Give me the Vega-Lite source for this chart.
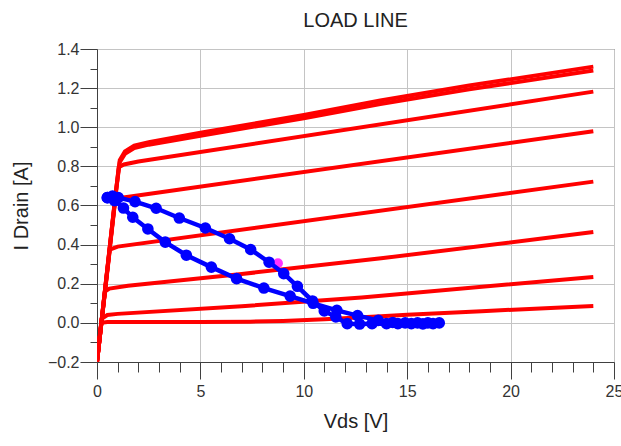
{
  "$schema": "https://vega.github.io/schema/vega-lite/v6.json",
  "autosize": {"type": "none"},
  "padding": {"left": 97, "top": 49, "right": 7, "bottom": 84},
  "width": 517,
  "height": 313,
  "background": "white",
  "title": {"text": "LOAD LINE", "anchor": "middle", "frame": "group", "fontSize": 20, "font": "Liberation Sans", "fontWeight": "normal", "color": "#222222", "baseline": "alphabetic", "offset": -6},
  "config": {
    "view": {"stroke": "#404040", "strokeWidth": 1},
    "axis": {"labelFont": "Liberation Sans", "labelFontSize": 16, "labelColor": "#333333", "titleFont": "Liberation Sans", "titleFontSize": 20, "titleFontWeight": "normal", "titleColor": "#222222", "domainColor": "#404040", "tickColor": "#404040", "gridColor": "#c4c4c4", "gridWidth": 1}
  },
  "datasets": {
    "iv": [
      {"s": "a1", "vds": 0, "id": -0.2}, {"s": "a1", "vds": 0.9, "id": 0.66}, {"s": "a1", "vds": 1.1, "id": 0.832}, {"s": "a1", "vds": 1.35, "id": 0.876}, {"s": "a1", "vds": 1.8, "id": 0.906}, {"s": "a1", "vds": 2.5, "id": 0.924}, {"s": "a1", "vds": 5, "id": 0.972}, {"s": "a1", "vds": 10, "id": 1.063}, {"s": "a1", "vds": 13.7, "id": 1.137}, {"s": "a1", "vds": 18, "id": 1.213}, {"s": "a1", "vds": 24, "id": 1.31},
      {"s": "a2", "vds": 0, "id": -0.2}, {"s": "a2", "vds": 0.9, "id": 0.655}, {"s": "a2", "vds": 1.1, "id": 0.822}, {"s": "a2", "vds": 1.35, "id": 0.864}, {"s": "a2", "vds": 1.8, "id": 0.894}, {"s": "a2", "vds": 2.5, "id": 0.911}, {"s": "a2", "vds": 5, "id": 0.957}, {"s": "a2", "vds": 10, "id": 1.046}, {"s": "a2", "vds": 13.7, "id": 1.119}, {"s": "a2", "vds": 18, "id": 1.194}, {"s": "a2", "vds": 24, "id": 1.29},
      {"s": "b", "vds": 0, "id": -0.2}, {"s": "b", "vds": 1.05, "id": 0.795}, {"s": "b", "vds": 1.3, "id": 0.81}, {"s": "b", "vds": 2, "id": 0.825}, {"s": "b", "vds": 24, "id": 1.182},
      {"s": "c", "vds": 0, "id": -0.2}, {"s": "c", "vds": 0.88, "id": 0.625}, {"s": "c", "vds": 1.2, "id": 0.64}, {"s": "c", "vds": 24, "id": 0.98},
      {"s": "d", "vds": 0, "id": -0.2}, {"s": "d", "vds": 0.62, "id": 0.375}, {"s": "d", "vds": 1, "id": 0.39}, {"s": "d", "vds": 24, "id": 0.722},
      {"s": "e", "vds": 0, "id": -0.2}, {"s": "e", "vds": 0.38, "id": 0.16}, {"s": "e", "vds": 0.6, "id": 0.175}, {"s": "e", "vds": 1.5, "id": 0.19}, {"s": "e", "vds": 7, "id": 0.25}, {"s": "e", "vds": 13.74, "id": 0.33}, {"s": "e", "vds": 24, "id": 0.464},
      {"s": "f", "vds": 0, "id": -0.2}, {"s": "f", "vds": 0.22, "id": 0.02}, {"s": "f", "vds": 0.5, "id": 0.04}, {"s": "f", "vds": 1, "id": 0.046}, {"s": "f", "vds": 7, "id": 0.085}, {"s": "f", "vds": 12.8, "id": 0.13}, {"s": "f", "vds": 24, "id": 0.235},
      {"s": "g", "vds": 0, "id": -0.2}, {"s": "g", "vds": 0.21, "id": 0.0}, {"s": "g", "vds": 0.5, "id": 0.004}, {"s": "g", "vds": 5, "id": 0.005}, {"s": "g", "vds": 7.4, "id": 0.006}, {"s": "g", "vds": 9, "id": 0.01}, {"s": "g", "vds": 11, "id": 0.018}, {"s": "g", "vds": 13.74, "id": 0.034}, {"s": "g", "vds": 15, "id": 0.041}, {"s": "g", "vds": 18.6, "id": 0.06}, {"s": "g", "vds": 24, "id": 0.086}
    ],
    "loop": [
      {"i": 1, "vds": 0.5, "id": 0.64}, {"i": 2, "vds": 0.75, "id": 0.648}, {"i": 3, "vds": 1.03, "id": 0.64}, {"i": 4, "vds": 1.84, "id": 0.62}, {"i": 5, "vds": 2.86, "id": 0.586}, {"i": 6, "vds": 3.98, "id": 0.536}, {"i": 7, "vds": 5.24, "id": 0.485}, {"i": 8, "vds": 6.41, "id": 0.43}, {"i": 9, "vds": 7.43, "id": 0.375}, {"i": 10, "vds": 8.32, "id": 0.31}, {"i": 11, "vds": 9.03, "id": 0.252}, {"i": 12, "vds": 9.69, "id": 0.187}, {"i": 13, "vds": 10.42, "id": 0.112}, {"i": 14, "vds": 10.99, "id": 0.061}, {"i": 15, "vds": 11.55, "id": 0.03}, {"i": 16, "vds": 12.1, "id": -0.004}, {"i": 17, "vds": 12.7, "id": -0.006}, {"i": 18, "vds": 13.3, "id": -0.004}, {"i": 19, "vds": 14.0, "id": -0.004}, {"i": 20, "vds": 14.55, "id": -0.004}, {"i": 21, "vds": 15.2, "id": -0.004}, {"i": 22, "vds": 15.76, "id": -0.005}, {"i": 23, "vds": 16.25, "id": -0.004}, {"i": 24, "vds": 16.55, "id": 0.0}, {"i": 25, "vds": 16.0, "id": 0.0}, {"i": 26, "vds": 15.5, "id": 0.0}, {"i": 27, "vds": 14.9, "id": 0.0}, {"i": 28, "vds": 14.3, "id": 0.002}, {"i": 29, "vds": 13.6, "id": 0.013}, {"i": 30, "vds": 12.6, "id": 0.037}, {"i": 31, "vds": 11.6, "id": 0.064}, {"i": 32, "vds": 10.45, "id": 0.1}, {"i": 33, "vds": 9.34, "id": 0.137}, {"i": 34, "vds": 8.07, "id": 0.178}, {"i": 35, "vds": 6.75, "id": 0.226}, {"i": 36, "vds": 5.53, "id": 0.285}, {"i": 37, "vds": 4.32, "id": 0.346}, {"i": 38, "vds": 3.3, "id": 0.413}, {"i": 39, "vds": 2.46, "id": 0.48}, {"i": 40, "vds": 1.73, "id": 0.54}, {"i": 41, "vds": 1.28, "id": 0.587}, {"i": 42, "vds": 0.85, "id": 0.625}, {"i": 43, "vds": 0.5, "id": 0.64}
    ],
    "marker": [{"vds": 8.75, "id": 0.305}]
  },
  "encoding": {
    "x": {"field": "vds", "type": "quantitative", "scale": {"domain": [0, 25], "nice": false, "zero": false},
      "axis": {"title": "Vds [V]", "values": [0,1,2,3,4,5,6,7,8,9,10,11,12,13,14,15,16,17,18,19,20,21,22,23,24,25], "format": "d",
        "labelExpr": "datum.value % 5 === 0 ? datum.label : ''",
        "tickSize": {"condition": {"test": "datum.value % 5 === 0", "value": 17}, "value": 10},
        "gridOpacity": {"condition": {"test": "datum.value % 5 === 0", "value": 1}, "value": 0},
        "grid": true, "labelPadding": 4, "labelOverlap": false, "labelFlush": false, "labelBound": false,
        "titleY": 65, "titleBaseline": "alphabetic"}},
    "y": {"field": "id", "type": "quantitative", "scale": {"domain": [-0.2, 1.4], "nice": false, "zero": false},
      "axis": {"title": "I Drain [A]", "values": [-0.2,-0.1,0,0.1,0.2,0.3,0.4,0.5,0.6,0.7,0.8,0.9,1.0,1.1,1.2,1.3,1.4], "format": ".1f",
        "labelExpr": "round(datum.value*10) % 2 === 0 ? datum.label : ''",
        "tickSize": {"condition": {"test": "round(datum.value*10) % 2 === 0", "value": 17}, "value": 7},
        "gridOpacity": {"condition": {"test": "round(datum.value*10) % 2 === 0", "value": 1}, "value": 0},
        "grid": true, "labelPadding": 1, "labelOverlap": false, "labelFlush": false, "labelBound": false,
        "titleX": -70, "titleBaseline": "alphabetic"}}
  },
  "layer": [
    {"data": {"name": "iv"}, "mark": {"type": "line", "color": "#ff0000", "strokeWidth": 4, "clip": true}, "encoding": {"detail": {"field": "s"}}},
    {"data": {"name": "marker"}, "mark": {"type": "point", "filled": true, "color": "#ff33ff", "opacity": 1, "size": 100}},
    {"data": {"name": "loop"}, "mark": {"type": "line", "color": "#0000ff", "strokeWidth": 4.5}, "encoding": {"order": {"field": "i", "type": "quantitative"}}},
    {"data": {"name": "loop"}, "mark": {"type": "point", "filled": true, "color": "#0000ff", "opacity": 1, "size": 135}}
  ]
}
